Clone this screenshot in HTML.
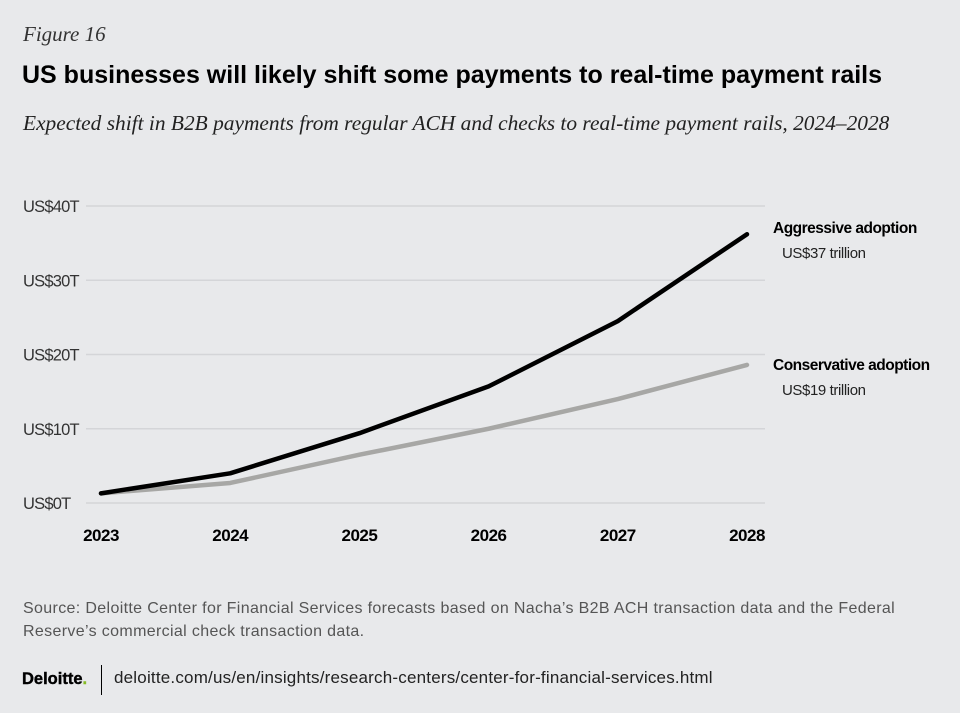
<!DOCTYPE html>
<html><head><meta charset="utf-8"><style>
body{margin:0;width:960px;height:713px;background:#e8e9eb;font-family:"Liberation Sans",sans-serif;overflow:hidden;position:relative}
.t{position:absolute;white-space:nowrap}
</style></head><body>
<div class="t" style="left:23px;top:22px;font:italic 21px 'Liberation Serif',serif;color:#333">Figure 16</div>
<div class="t" style="left:22px;top:61px;font-weight:bold;font-size:25px;letter-spacing:0px;color:#000">US businesses will likely shift some payments to real-time payment rails</div>
<div class="t" style="left:23px;top:111px;font:italic 21.4px 'Liberation Serif',serif;color:#222">Expected shift in B2B payments from regular ACH and checks to real-time payment rails, 2024–2028</div>
<svg id="chart" width="960" height="713" style="position:absolute;left:0;top:0"></svg>
<div class="t" style="left:23px;top:597px;font-size:16px;line-height:23px;color:#555;letter-spacing:0.35px">Source: Deloitte Center for Financial Services forecasts based on Nacha’s B2B ACH transaction data and the Federal<br>Reserve’s commercial check transaction data.</div>
<div class="t" style="left:22px;top:670px;font-weight:900;font-size:16.5px;color:#000;letter-spacing:0px;-webkit-text-stroke:0.4px #000">Deloitte<span style="color:#86bc25;-webkit-text-stroke:0.4px #86bc25">.</span></div>
<div style="position:absolute;left:101px;top:665px;width:1px;height:30px;background:#000"></div>
<div class="t" style="left:114px;top:668px;font-size:17px;color:#222;letter-spacing:0.2px">deloitte.com/us/en/insights/research-centers/center-for-financial-services.html</div>
<script>
const years=["2023","2024","2025","2026","2027","2028"];
const aggressive=[1.3,4.0,9.4,15.7,24.5,36.2];
const conservative=[1.3,2.7,6.5,10.0,14.0,18.6];
const yTicks=[0,10,20,30,40];
const yTickLabels=["US$0T","US$10T","US$20T","US$30T","US$40T"];
const svg=document.getElementById('chart');const NS='http://www.w3.org/2000/svg';
const x=i=>101+i*129.2;const y=v=>503-v*(297/40);
function mk(t,a){const e=document.createElementNS(NS,t);for(const k in a)e.setAttribute(k,a[k]);svg.appendChild(e);return e;}
yTicks.forEach((v,i)=>{
 const g=mk('line',{x1:86,x2:765,y1:y(v),y2:y(v),stroke:'#d4d5d8','stroke-width':1.5});
 
 
 const t=mk('text',{x:23,y:y(v)+6,'font-size':16.5,fill:'#333','font-family':'Liberation Sans','letter-spacing':'-0.8'});
 t.textContent=yTickLabels[i];
 
 
});
years.forEach((yr,i)=>{
 const t=mk('text',{x:x(i),y:541,'font-size':17,'font-weight':'bold','text-anchor':'middle',fill:'#000','font-family':'Liberation Sans','letter-spacing':'-0.5'});
 t.textContent=yr;
 
 
});
const c=mk('polyline',{points:conservative.map((v,i)=>x(i)+','+y(v)).join(' '),fill:'none',stroke:'#a7a7a5','stroke-width':4.5,'stroke-linejoin':'round','stroke-linecap':'round'});


const a=mk('polyline',{points:aggressive.map((v,i)=>x(i)+','+y(v)).join(' '),fill:'none',stroke:'#000','stroke-width':4.5,'stroke-linejoin':'round','stroke-linecap':'round'});


const labs=[["Aggressive adoption","US$37 trillion",233,'aggressive'],["Conservative adoption","US$19 trillion",370,'conservative']];
labs.forEach(l=>{
 const t1=mk('text',{x:773,y:l[2],'font-size':15.5,'font-weight':'bold',fill:'#000','font-family':'Liberation Sans','letter-spacing':'-0.5'});
 t1.textContent=l[0];
 
 
 const t2=mk('text',{x:782,y:l[2]+25,'font-size':15,fill:'#222','font-family':'Liberation Sans','letter-spacing':'-0.4'});
 t2.textContent=l[1];
 
 
});
</script>
</body></html>
